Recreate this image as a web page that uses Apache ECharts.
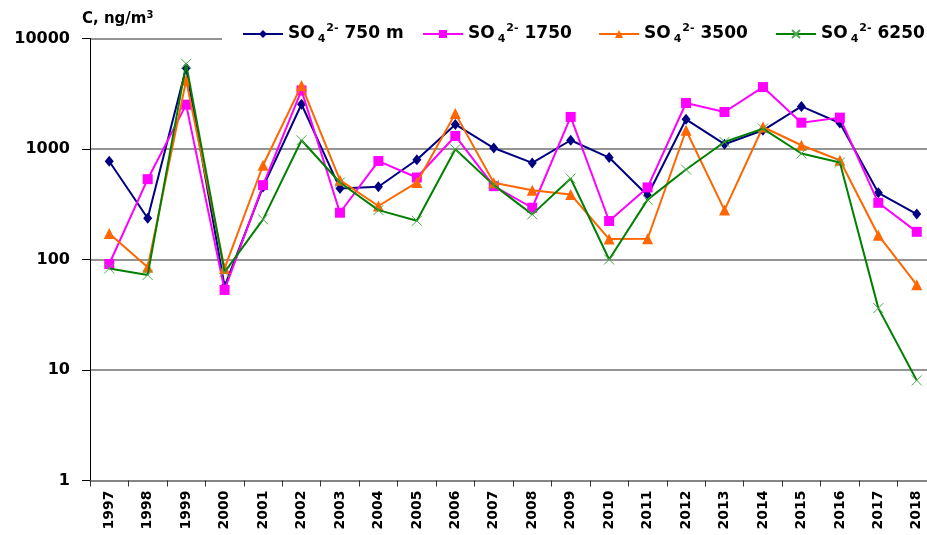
<!DOCTYPE html>
<html><head><meta charset="utf-8">
<script src="https://cdn.jsdelivr.net/npm/echarts@6/dist/echarts.min.js"></script>
<style>html,body{margin:0;padding:0;background:#fff}#c{width:927px;height:535px}</style>
</head><body><div id="c"></div>
<script>
const years = ['1997','1998','1999','2000','2001','2002','2003','2004','2005','2006','2007','2008','2009','2010','2011','2012','2013','2014','2015','2016','2017','2018'];
const s750  = [775, 236, 5400, 57, 454, 2540, 440, 455, 800, 1670, 1020, 748, 1200, 837, 380, 1857, 1105, 1477, 2430, 1718, 401, 258];
const s1750 = [91, 533, 2520, 53, 471, 3390, 265, 778, 552, 1312, 461, 294, 1950, 223, 449, 2606, 2161, 3633, 1730, 1923, 326, 178];
const s3500 = [172, 85, 4180, 83, 713, 3765, 522, 305, 498, 2090, 494, 424, 388, 153, 154, 1477, 280, 1582, 1081, 791, 166, 59];
const s6250 = [83, 72.5, 5900, 77, 231, 1200, 498, 280, 224, 995, 471, 256, 541, 100, 348, 652, 1158, 1529, 910, 754, 36.3, 8.05];
const seriesNames = ['750 m', '1750', '3500', '6250'];
const yTicks = [1, 10, 100, 1000, 10000];

const FONT = 'DejaVu Sans';
const chart = echarts.init(document.getElementById('c'), null, {renderer: 'canvas'});

const rich = {
  b: {fontFamily: FONT, fontWeight: 'bold', fontSize: 17, color: '#000', lineHeight: 22},
  sub: {fontFamily: FONT, fontWeight: 'bold', fontSize: 11, color: '#000', lineHeight: 10, verticalAlign: 'bottom', padding: [0, 1, 0, 3]},
  sup: {fontFamily: FONT, fontWeight: 'bold', fontSize: 11, color: '#000', lineHeight: 12, verticalAlign: 'top'}
};
function legendFmt(name) {
  return '{b|SO}{sub|4}{sup|2-}{b| ' + name + '}';
}
const legendLefts = [242, 422, 598, 775];
const legends = seriesNames.map((n, i) => ({
  data: [n], left: legendLefts[i], top: 23, padding: 0,
  itemWidth: 40, itemHeight: 10, formatter: legendFmt,
  textStyle: {rich: rich, padding: [0, 0, 0, 0]},
  selectedMode: false
}));

const xPath = 'path://M0,0L10,10M10,0L0,10';
const defs = [
  {data: s750, color: '#000080', symbol: 'diamond', size: [9, 11], item: {color: '#000080'}},
  {data: s1750, color: '#FF00FF', symbol: 'rect', size: 10, item: {color: '#FF00FF'}},
  {data: s3500, color: '#FF6600', symbol: 'triangle', size: 11, item: {color: '#FF6600'}},
  {data: s6250, color: '#008000', symbol: xPath, size: 10, item: {color: '#008000', borderColor: '#4fa84f', borderWidth: 1}}
];

chart.setOption({
  animation: false,
  backgroundColor: '#fff',
  legend: legends,
  graphic: [
    {type: 'rect', z: 1, shape: {x: 222, y: 24, width: 720, height: 20}, style: {fill: '#fff'}},
    {type: 'text', z: 5, left: 82, top: 10, style: {
      text: '{a|C, ng/m}{s|3}',
      rich: {
        a: {fontFamily: FONT, fontWeight: 'bold', fontSize: 15, fill: '#000', lineHeight: 18},
        s: {fontFamily: FONT, fontWeight: 'bold', fontSize: 10, fill: '#000', lineHeight: 12, verticalAlign: 'top'}
      }
    }}
  ],
  grid: {left: 90, top: 38.5, width: 846, height: 442, containLabel: false, outerBoundsMode: 'none'},
  xAxis: {
    type: 'category', data: years, boundaryGap: true,
    axisLine: {lineStyle: {color: '#808080', width: 1.5}},
    axisTick: {show: true, alignWithLabel: false, length: 6, lineStyle: {color: '#333'}},
    axisLabel: {rotate: 90, margin: 10, fontFamily: FONT, fontWeight: 'bold', fontSize: 14, color: '#000', interval: 0},
    splitLine: {show: false}
  },
  yAxis: {
    type: 'log', logBase: 10, min: 1, max: 10000,
    axisLine: {show: true, lineStyle: {color: '#000', width: 1}},
    axisTick: {show: true, length: 8, lineStyle: {color: '#000'}},
    axisLabel: {margin: 20, fontFamily: FONT, fontWeight: 'bold', fontSize: 16, color: '#000',
      formatter: v => String(Math.round(v))},
    splitLine: {show: true, lineStyle: {color: '#707070', width: 1.5}},
    minorTick: {show: false}
  },
  series: defs.map((d, i) => ({
    name: seriesNames[i], type: 'line', data: d.data,
    symbol: d.symbol, symbolSize: d.size, showAllSymbol: true,
    lineStyle: {color: d.color, width: 2},
    itemStyle: d.item,
    z: 3 + i,
    emphasis: {disabled: true}
  }))
});
</script>
</body></html>
